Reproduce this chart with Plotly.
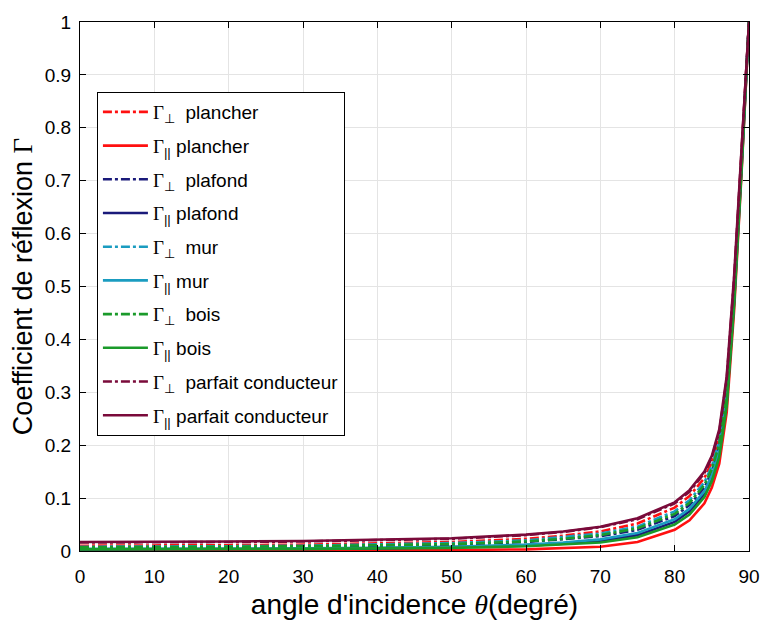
import plotly.graph_objects as go

theta = [0, 10, 20, 30, 40, 50, 60, 65, 70, 75, 80, 82, 84, 85, 86, 87, 88, 89, 90]

perp_plancher = [0.010, 0.010, 0.011, 0.012, 0.014, 0.017, 0.023, 0.029, 0.037, 0.052, 0.082, 0.104, 0.138, 0.168, 0.216, 0.315, 0.505, 0.750, 1.0]
par_plancher  = [0.001, 0.001, 0.001, 0.001, 0.001, 0.002, 0.003, 0.005, 0.008, 0.017, 0.040, 0.058, 0.090, 0.120, 0.165, 0.262, 0.455, 0.715, 1.0]
perp_plafond  = [0.006, 0.006, 0.007, 0.008, 0.010, 0.012, 0.017, 0.022, 0.028, 0.040, 0.066, 0.087, 0.120, 0.150, 0.198, 0.295, 0.485, 0.735, 1.0]
par_plafond   = [0.003, 0.003, 0.004, 0.004, 0.005, 0.007, 0.010, 0.014, 0.019, 0.030, 0.055, 0.075, 0.108, 0.138, 0.185, 0.282, 0.472, 0.725, 1.0]
perp_mur      = [0.008, 0.008, 0.009, 0.010, 0.012, 0.015, 0.020, 0.026, 0.033, 0.046, 0.075, 0.096, 0.130, 0.160, 0.208, 0.305, 0.495, 0.745, 1.0]
par_mur       = [0.004, 0.004, 0.005, 0.005, 0.006, 0.008, 0.012, 0.016, 0.022, 0.034, 0.060, 0.080, 0.113, 0.143, 0.190, 0.288, 0.478, 0.730, 1.0]
perp_bois     = [0.007, 0.007, 0.008, 0.009, 0.011, 0.013, 0.018, 0.023, 0.030, 0.043, 0.070, 0.091, 0.125, 0.155, 0.202, 0.300, 0.490, 0.740, 1.0]
par_bois      = [0.003, 0.003, 0.003, 0.004, 0.005, 0.006, 0.009, 0.012, 0.016, 0.026, 0.050, 0.069, 0.102, 0.132, 0.178, 0.275, 0.465, 0.720, 1.0]
perp_pc       = [0.016, 0.016, 0.017, 0.018, 0.020, 0.023, 0.030, 0.036, 0.045, 0.060, 0.090, 0.112, 0.147, 0.177, 0.225, 0.325, 0.515, 0.755, 1.0]
par_pc        = [0.017, 0.017, 0.018, 0.019, 0.021, 0.024, 0.031, 0.037, 0.046, 0.062, 0.092, 0.115, 0.150, 0.180, 0.230, 0.330, 0.520, 0.760, 1.0]

materials = ["plancher", "plafond", "mur", "bois", "parfait conducteur"]
colors = ["#ff1010", "#1a1a7a", "#1a9cc0", "#1a9a2a", "#7a0a3a"]
series = [(perp_plancher, par_plancher), (perp_plafond, par_plafond), (perp_mur, par_mur),
          (perp_bois, par_bois), (perp_pc, par_pc)]

G = '<span style="font-family:\'Liberation Serif\', \'Times New Roman\', serif">Γ</span>'

fig = go.Figure()
k = 0
for mat, col, (perp, par) in zip(materials, colors, series):
    fig.add_trace(go.Scatter(x=theta, y=perp, mode="lines",
                             line=dict(color=col, width=2.6, dash="dashdot"),
                             name=f"{G}<sub>⊥</sub>  {mat}", legendgroup=f"g{k}"))
    k += 1
    fig.add_trace(go.Scatter(x=theta, y=par, mode="lines",
                             line=dict(color=col, width=2.6),
                             name=f"{G}<sub>||</sub> {mat}", legendgroup=f"g{k}"))
    k += 1

axis_common = dict(showgrid=True, gridcolor="#e4e4e4", gridwidth=1,
                   showline=True, linecolor="black", linewidth=1.2, mirror="ticks",
                   ticks="inside", ticklen=6, tickcolor="black", zeroline=False,
                   tickfont=dict(family="Liberation Sans, Arial", size=19, color="black"))

fig.update_layout(
    width=772, height=627,
    margin=dict(l=80, r=15, t=17, b=75),
    paper_bgcolor="white", plot_bgcolor="white",
    font=dict(family="Liberation Sans, Arial", color="black"),
    xaxis=dict(range=[0, 90], dtick=10, tick0=0, ticklabelstandoff=8,
               title=dict(text='angle d\'incidence <span style="font-family:\'Liberation Serif\', serif"><i>θ</i></span>(degré)',
                          font=dict(size=28), standoff=8),
               **axis_common),
    yaxis=dict(range=[0, 1], dtick=0.1, tick0=0, ticklabelstandoff=4,
               title=dict(text=f"Coefficient de réflexion {G}", font=dict(size=27), standoff=4),
               **axis_common),
    legend=dict(x=0.025, y=0.868, xanchor="left", yanchor="top",
                bgcolor="white", bordercolor="black", borderwidth=1.2,
                font=dict(family="Liberation Sans, Arial", size=19, color="black"),
                tracegroupgap=6, itemwidth=45),
    showlegend=True,
)

fig.write_html("out.html")
